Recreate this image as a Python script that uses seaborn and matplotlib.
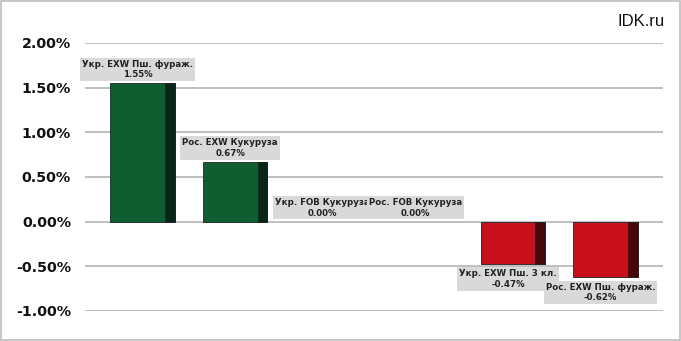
import matplotlib
matplotlib.use("Agg")
import matplotlib.pyplot as plt
from matplotlib.patches import Rectangle
import seaborn as sns
import pandas as pd

categories = ["Укр. EXW Пш. фураж.", "Рос. EXW Кукуруза", "Укр. FOB Кукуруза",
              "Рос. FOB Кукуруза", "Укр. EXW Пш. 3 кл.", "Рос. EXW Пш. фураж."]
values = [0.0155, 0.0067, 0.0000, 0.0000, -0.0047, -0.0062]
yticks = [-0.01, -0.005, 0.0, 0.005, 0.01, 0.015, 0.02]

GREEN, GREEN_SIDE = "#0f5e32", "#06261a"
RED, RED_SIDE = "#c8101c", "#46060a"

sns.set_theme(style="white")
plt.rcParams['font.family'] = ['DejaVu Sans']

df = pd.DataFrame({"cat": categories, "val": values})
fig = plt.figure(figsize=(6.81, 3.41), dpi=100)
ax = fig.add_axes([85/681, 30/341, 578/681, 268/341])

palette = {c: (GREEN if v >= 0 else RED) for c, v in zip(categories, values)}
sns.barplot(data=df, x="cat", y="val", hue="cat", palette=palette, width=0.70,
            legend=False, ax=ax, saturation=1, edgecolor="#222222", linewidth=0.6)

front_frac = 55/65
bars = list(ax.patches)[:len(values)]
for i, (patch, v) in enumerate(zip(bars, values)):
    x0, w = patch.get_x(), patch.get_width()
    y0, h = patch.get_y(), patch.get_height()
    if h != 0:
        side = RED_SIDE if v < 0 else GREEN_SIDE
        ax.add_patch(Rectangle((x0 + w*front_frac, y0), w*(1-front_frac), h,
                               facecolor=side, edgecolor="#222222", linewidth=0.6,
                               zorder=patch.get_zorder()+0.1))
    else:
        patch.set_linewidth(0)
        patch.set_visible(False)
    cx = x0 + w*front_frac/2
    txt = f"{categories[i]}\n{v*100:.2f}%"
    off, va = ((0, 3), "bottom") if v >= 0 else ((0, -4), "top")
    ax.annotate(txt, (cx, v), xytext=off, textcoords="offset points",
                ha="center", va=va, fontsize=6.2, fontweight="bold",
                color="#222222", linespacing=1.2,
                bbox=dict(boxstyle="square,pad=0.22", fc="#d9d9d9", ec="none"), zorder=5)

ax.set_xlim(-0.62, 5.62)
ax.set_ylim(-0.01, 0.02)
ax.set_yticks(yticks)
ax.set_yticklabels([f"{t*100:.2f}%" for t in yticks], fontsize=10.3, fontweight="bold", color="#111111")
ax.yaxis.grid(True, color="#b4b4b4", linewidth=1.2)
ax.set_axisbelow(True)
ax.tick_params(axis="y", length=0, pad=10)
ax.set_xticks([])
ax.set_xlabel("")
ax.set_ylabel("")
for s in ax.spines.values():
    s.set_visible(False)

fig.text(665/681, 1 - 22/341, "IDK.ru", ha="right", va="center", fontsize=12,
         family="Liberation Sans", color="#111111")
fig.add_artist(Rectangle((0.002, 0.004), 0.996, 0.992, transform=fig.transFigure,
                         fill=False, edgecolor="#bdbdbd", linewidth=1.2))

fig.savefig("out.png", dpi=100)
